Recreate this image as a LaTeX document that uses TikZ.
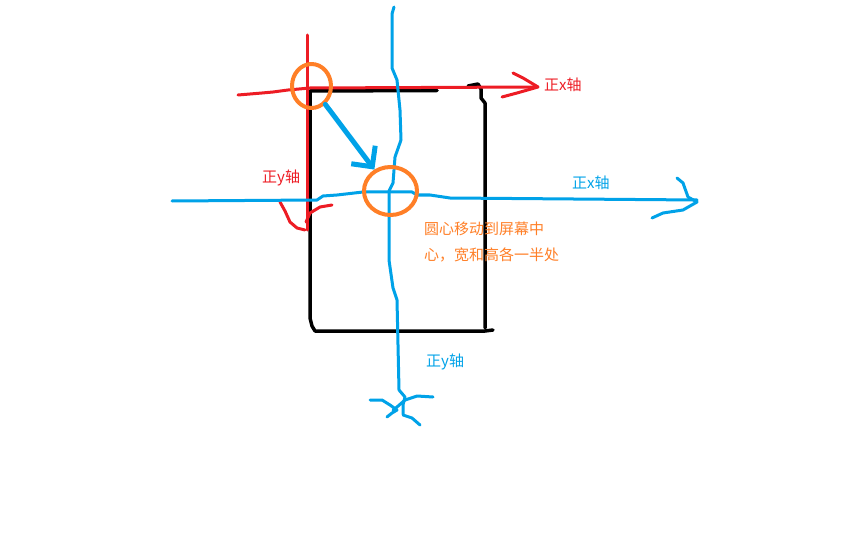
\documentclass[tikz,border=0pt]{standalone}
\usepackage{fontspec}
\setmainfont{Noto Sans CJK SC}
\usepackage{xcolor}
\usetikzlibrary{arrows.meta}
\usetikzlibrary{shapes.geometric}
\definecolor{paintred}{HTML}{ED1C24}
\definecolor{paintblue}{HTML}{00A2E8}
\definecolor{paintorange}{HTML}{FF7F27}

\begin{document}
\begin{tikzpicture}[x=1pt,y=-1pt,line cap=round,line join=round]
\tikzstyle{redpen}=[draw=paintred,line width=3pt]
\tikzstyle{bluepen}=[draw=paintblue,line width=3pt]
\tikzstyle{blackpen}=[draw=black,line width=3.5pt]
\tikzstyle{ring}=[draw=paintorange,line width=4pt,ellipse,inner sep=0pt]
\tikzstyle{axistext}=[inner sep=0pt,anchor=west,font=\fontsize{15}{18}\selectfont]
\useasboundingbox (0,0) rectangle (864,540);
% screen
\draw[blackpen] (437,90.5) -- (310,91) -- (310,318) -- (312,326) -- (315,331) -- (485,331) -- (493,330);
\draw[blackpen] (468,86) -- (478,84) -- (481,89) -- (481,98) -- (485,103) -- (485,328);
% old axes
\draw[redpen] (307,35) -- (307,230);
\draw[redpen] (238,95) -- (262,93) -- (273,92) -- (288,90) -- (310,88) -- (533,87);
\draw[redpen] (513,73) -- (523,78) -- (538,87) -- (517,93) -- (502,97);
\draw[redpen] (280,202) -- (285,211) -- (290,222) -- (297,228) -- (305,230);
\draw[redpen] (332,205) -- (320,207) -- (310,213) -- (306,222);
% new axes
\draw[bluepen] (394,7) -- (392,14) -- (392,68) -- (397,80) -- (400,110) -- (401,140) -- (395,157) -- (393,183) -- (389,191) -- (389,260) -- (393,288) -- (397,300) -- (399,390) -- (405,397) -- (403,405) -- (403,414);
\draw[bluepen] (370,400) -- (382,400) -- (390,405) -- (397,410) -- (392,413) -- (387,417);
\draw[bluepen] (433,397) -- (417,396) -- (405,400) -- (397,407) -- (393,410);
\draw[bluepen] (403,415) -- (412,418) -- (420,425);
\draw[bluepen] (172,201) -- (317,200) -- (323,196) -- (337,195) -- (363,192) -- (412,192) -- (417,195) -- (430,195) -- (450,198) -- (697,200);
\draw[bluepen] (677,178) -- (683,183) -- (688,197) -- (697,202) -- (683,210) -- (663,213) -- (652,218);
% origins
\node[ring,minimum width=39pt,minimum height=44pt] (oldorigin) at (311.5,86) {};
\node[ring,minimum width=53pt,minimum height=48pt] (neworigin) at (390.5,191) {};
\draw[bluepen,line width=5pt,-{Straight Barb[length=15pt,width=30pt]}] (oldorigin) -- (neworigin);
% labels
\node[axistext,text=paintred] (redx) at (544,85) {正x轴};
\node[axistext,text=paintred] (redy) at (262,178) {正y轴};
\node[axistext,text=paintblue] (bluex) at (572,183) {正x轴};
\node[axistext,text=paintblue] (bluey) at (426,362) {正y轴};
\node[axistext,text=paintorange] (note1) at (424,229) {圆心移动到屏幕中};
\node[axistext,text=paintorange] (note2) at (424,255) {心，宽和高各一半处};
\end{tikzpicture}
\end{document}
